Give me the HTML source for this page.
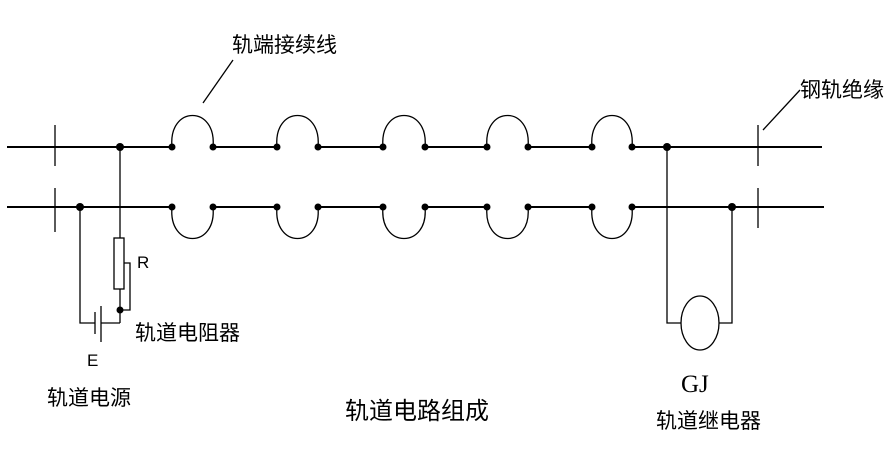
<!DOCTYPE html>
<html><head><meta charset="utf-8"><style>
html,body{margin:0;padding:0;background:#fff;}
svg{display:block}
text{font-family:"Liberation Sans","Noto Sans CJK SC",sans-serif;fill:#000}
</style></head><body>
<svg width="895" height="473" viewBox="0 0 895 473" xmlns="http://www.w3.org/2000/svg">
<g stroke="#000" stroke-width="2" fill="none">
<line x1="7" y1="147" x2="172" y2="147"/>
<line x1="213" y1="147" x2="277" y2="147"/>
<line x1="318" y1="147" x2="383" y2="147"/>
<line x1="425" y1="147" x2="487" y2="147"/>
<line x1="528" y1="147" x2="592" y2="147"/>
<line x1="632" y1="147" x2="822" y2="147"/>
<line x1="7" y1="207" x2="172" y2="207"/>
<line x1="213" y1="207" x2="277" y2="207"/>
<line x1="318" y1="207" x2="383" y2="207"/>
<line x1="425" y1="207" x2="487" y2="207"/>
<line x1="528" y1="207" x2="592" y2="207"/>
<line x1="632" y1="207" x2="824" y2="207"/>
</g>
<g stroke="#000" stroke-width="1.3" fill="none">
<path d="M172,147 C168,105 217,105 213,147"/>
<path d="M277,147 C273,105 322,105 318,147"/>
<path d="M383,147 C379,105 429,105 425,147"/>
<path d="M487,147 C483,105 532,105 528,147"/>
<path d="M592,147 C588,105 636,105 632,147"/>
<path d="M172,207 C168,249 217,249 213,207"/>
<path d="M277,207 C273,249 322,249 318,207"/>
<path d="M383,207 C379,249 429,249 425,207"/>
<path d="M487,207 C483,249 532,249 528,207"/>
<path d="M592,207 C588,249 636,249 632,207"/>
<line x1="55" y1="125" x2="55" y2="166"/>
<line x1="55" y1="188" x2="55" y2="232"/>
<line x1="758" y1="125" x2="758" y2="166"/>
<line x1="758" y1="188" x2="758" y2="228"/>
<line x1="203" y1="103" x2="233" y2="60"/>
<line x1="763" y1="130" x2="800" y2="90"/>
<line x1="120" y1="147" x2="120" y2="238"/>
<rect x="114" y="238" width="10" height="51"/>
<line x1="120" y1="289" x2="120" y2="323"/>
<polyline points="124,263 130,263 130,310 120,310"/>
<polyline points="120,323 101,323"/>
<polyline points="95,323 80,323 80,207"/>
<line x1="95" y1="312" x2="95" y2="334"/>
<line x1="101" y1="306" x2="101" y2="342"/>
<polyline points="667,147 667,323 681,323"/>
<polyline points="732,207 732,323 719,323"/>
<ellipse cx="700" cy="323" rx="19" ry="27"/>
</g>
<g fill="#000">
<circle cx="172" cy="147" r="3.5"/><circle cx="213" cy="147" r="3.5"/>
<circle cx="277" cy="147" r="3.5"/><circle cx="318" cy="147" r="3.5"/>
<circle cx="383" cy="147" r="3.5"/><circle cx="425" cy="147" r="3.5"/>
<circle cx="487" cy="147" r="3.5"/><circle cx="528" cy="147" r="3.5"/>
<circle cx="592" cy="147" r="3.5"/><circle cx="632" cy="147" r="3.5"/>
<circle cx="172" cy="207" r="3.5"/><circle cx="213" cy="207" r="3.5"/>
<circle cx="277" cy="207" r="3.5"/><circle cx="318" cy="207" r="3.5"/>
<circle cx="383" cy="207" r="3.5"/><circle cx="425" cy="207" r="3.5"/>
<circle cx="487" cy="207" r="3.5"/><circle cx="528" cy="207" r="3.5"/>
<circle cx="592" cy="207" r="3.5"/><circle cx="632" cy="207" r="3.5"/>
<circle cx="120" cy="147" r="4"/><circle cx="80" cy="207" r="4"/>
<circle cx="120" cy="310" r="3.5"/>
<circle cx="667" cy="147" r="4"/><circle cx="732" cy="207" r="4"/>
</g>
<text x="232" y="52" font-size="21">轨端接续线</text>
<text x="800" y="97" font-size="21">钢轨绝缘</text>
<text x="137" y="268" font-size="17">R</text>
<text x="135" y="340" font-size="21">轨道电阻器</text>
<text x="87" y="366" font-size="17">E</text>
<text x="47" y="405" font-size="21">轨道电源</text>
<text x="345" y="419" font-size="24">轨道电路组成</text>
<text x="681" y="392" font-size="25" style="font-family:'Liberation Serif',serif">GJ</text>
<text x="656" y="428" font-size="21">轨道继电器</text>
</svg>
</body></html>
